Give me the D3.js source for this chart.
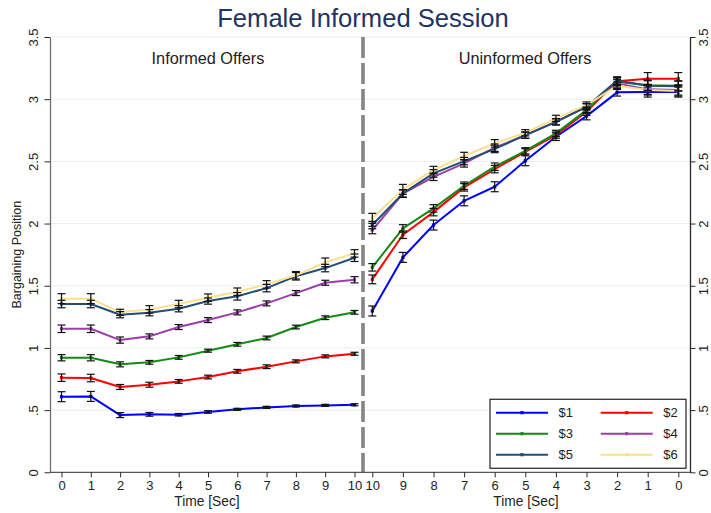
<!DOCTYPE html>
<html>
<head>
<meta charset="utf-8">
<script src="https://cdn.jsdelivr.net/npm/d3@7"></script>
<style>
  html, body { margin: 0; padding: 0; background: #fff; }
  svg { display: block; font-family: "Liberation Sans", Arial, Helvetica, sans-serif; }
</style>
</head>
<body>
<svg id="chart" width="711" height="513"></svg>
<script>
// Seconds shown on each half of the time axis
const informedTimes = [0, 1, 2, 3, 4, 5, 6, 7, 8, 9, 10];
const uninformedTimes = [10, 9, 8, 7, 6, 5, 4, 3, 2, 1, 0];

const seriesNames = ["$1", "$2", "$3", "$4", "$5", "$6"];
const seriesColors = ["#0000ff", "#ff0000", "#138a13", "#9a3fa8", "#244f74", "#fbe089"];

// Mean bargaining position during informed offers (t = 0..10)
const informed1 = [0.608, 0.610, 0.460, 0.466, 0.463, 0.485, 0.506, 0.522, 0.533, 0.538, 0.543];
const informed2 = [0.761, 0.758, 0.686, 0.704, 0.731, 0.766, 0.812, 0.849, 0.892, 0.932, 0.953];
const informed3 = [0.921, 0.921, 0.868, 0.884, 0.924, 0.978, 1.029, 1.080, 1.168, 1.243, 1.286];
const informed4 = [1.154, 1.154, 1.063, 1.093, 1.168, 1.224, 1.286, 1.358, 1.441, 1.524, 1.548];
const informed5 = [1.353, 1.353, 1.267, 1.283, 1.315, 1.377, 1.415, 1.481, 1.576, 1.642, 1.725];
const informed6 = [1.396, 1.396, 1.286, 1.310, 1.353, 1.404, 1.452, 1.511, 1.584, 1.688, 1.760];

// Half-width of the confidence interval, informed offers
const informedErr1 = [0.040, 0.040, 0.020, 0.015, 0.010, 0.010, 0.008, 0.008, 0.008, 0.008, 0.008];
const informedErr2 = [0.030, 0.030, 0.020, 0.020, 0.015, 0.015, 0.015, 0.015, 0.012, 0.012, 0.012];
const informedErr3 = [0.025, 0.025, 0.020, 0.015, 0.015, 0.012, 0.015, 0.015, 0.015, 0.015, 0.015];
const informedErr4 = [0.030, 0.030, 0.025, 0.020, 0.020, 0.020, 0.020, 0.020, 0.020, 0.020, 0.025];
const informedErr5 = [0.030, 0.030, 0.025, 0.025, 0.025, 0.025, 0.030, 0.030, 0.030, 0.030, 0.030];
const informedErr6 = [0.040, 0.040, 0.025, 0.030, 0.030, 0.030, 0.030, 0.030, 0.030, 0.035, 0.030];

// Mean bargaining position during uninformed offers (t = 10 down to 0)
const uninformed1 = [1.297, 1.728, 1.988, 2.183, 2.296, 2.505, 2.698, 2.864, 3.055, 3.057, 3.057];
const uninformed2 = [1.551, 1.910, 2.092, 2.291, 2.438, 2.577, 2.711, 2.899, 3.145, 3.164, 3.164];
const uninformed3 = [1.648, 1.961, 2.122, 2.304, 2.457, 2.585, 2.725, 2.912, 3.140, 3.113, 3.108];
const uninformed4 = [1.948, 2.240, 2.376, 2.484, 2.610, 2.710, 2.818, 2.939, 3.127, 3.079, 3.073];
const uninformed5 = [1.988, 2.243, 2.403, 2.502, 2.600, 2.711, 2.818, 2.939, 3.150, 3.108, 3.105];
const uninformed6 = [2.042, 2.275, 2.430, 2.543, 2.645, 2.730, 2.846, 2.953, 3.108, 3.073, 3.065];

// Half-width of the confidence interval, uninformed offers
const uninformedErr1 = [0.040, 0.040, 0.040, 0.040, 0.040, 0.040, 0.030, 0.030, 0.030, 0.040, 0.040];
const uninformedErr2 = [0.035, 0.030, 0.030, 0.030, 0.030, 0.025, 0.025, 0.030, 0.030, 0.050, 0.050];
const uninformedErr3 = [0.030, 0.030, 0.030, 0.030, 0.030, 0.025, 0.025, 0.025, 0.030, 0.040, 0.040];
const uninformedErr4 = [0.030, 0.030, 0.030, 0.030, 0.030, 0.025, 0.025, 0.025, 0.030, 0.040, 0.040];
const uninformedErr5 = [0.030, 0.030, 0.030, 0.030, 0.030, 0.025, 0.025, 0.025, 0.030, 0.040, 0.040];
const uninformedErr6 = [0.040, 0.040, 0.030, 0.030, 0.030, 0.025, 0.025, 0.025, 0.030, 0.040, 0.040];

const yTickValues = [0, 0.5, 1, 1.5, 2, 2.5, 3, 3.5];
const yTickLabels = ["0", ".5", "1", "1.5", "2", "2.5", "3", "3.5"];

const chartTitle = "Female Informed Session";
const leftPanelLabel = "Informed Offers";
const rightPanelLabel = "Uninformed Offers";
const xAxisTitle = "Time [Sec]";
const yAxisTitle = "Bargaining Position";

// ---- assemble series ----
const informedValues = [informed1, informed2, informed3, informed4, informed5, informed6];
const informedErrors = [informedErr1, informedErr2, informedErr3, informedErr4, informedErr5, informedErr6];
const uninformedValues = [uninformed1, uninformed2, uninformed3, uninformed4, uninformed5, uninformed6];
const uninformedErrors = [uninformedErr1, uninformedErr2, uninformedErr3, uninformedErr4, uninformedErr5, uninformedErr6];

const svg = d3.select("#chart");

// ---- layout ----
const plotLeft = 50, plotRight = 690, plotTop = 37, plotBottom = 472.3;
const dividerX = 363;

const y = d3.scaleLinear().domain([0, 3.5]).range([plotBottom, plotTop]);
const xLeft = d3.scaleLinear().domain([0, 10]).range([61.5, 354.5]);
const xRight = d3.scaleLinear().domain([10, 0]).range([372.3, 678.3]);

// ---- gridlines ----
svg.append("g")
  .selectAll("line")
  .data(yTickValues.filter(v => v > 0))
  .join("line")
  .attr("x1", plotLeft).attr("x2", plotRight)
  .attr("y1", d => y(d)).attr("y2", d => y(d))
  .attr("stroke", "#e6eef1").attr("stroke-width", 1);

// ---- dashed divider between the two phases ----
svg.append("line")
  .attr("x1", dividerX).attr("x2", dividerX)
  .attr("y1", plotTop).attr("y2", plotBottom)
  .attr("stroke", "#858585").attr("stroke-width", 3.6)
  .attr("stroke-dasharray", "21 5");

// ---- y axes (left and right) ----
function styleYAxis(g, side) {
  g.select(".domain").attr("stroke", side === "left" ? "#707070" : "#2a2a2a").attr("stroke-width", 1.3);
  g.selectAll(".tick line").attr("stroke", "#2a2a2a").attr("stroke-width", 1);
  g.selectAll(".tick text")
    .attr("font-size", 13)
    .attr("fill", "#222")
    .attr("transform", "rotate(-90)")
    .attr("text-anchor", "middle")
    .attr("x", 0)
    .attr("dy", 0);
}

const yAxisLeft = d3.axisLeft(y).tickValues(yTickValues)
  .tickFormat((d, i) => yTickLabels[i]).tickSize(5.5).tickSizeOuter(0).tickPadding(4);
const gl = svg.append("g").attr("transform", `translate(${plotLeft},0)`).call(yAxisLeft);
styleYAxis(gl, "left");
gl.selectAll(".tick text").attr("y", -12.5);

const yAxisRight = d3.axisRight(y).tickValues(yTickValues)
  .tickFormat((d, i) => yTickLabels[i]).tickSize(5.5).tickSizeOuter(0).tickPadding(4);
const gr = svg.append("g").attr("transform", `translate(${plotRight},0)`).call(yAxisRight);
styleYAxis(gr, "right");
gr.selectAll(".tick text").attr("y", 18);

// ---- x axes ----
svg.append("line")
  .attr("x1", plotLeft).attr("x2", plotRight)
  .attr("y1", plotBottom).attr("y2", plotBottom)
  .attr("stroke", "#555").attr("stroke-width", 1.3);

function drawXAxis(scale, ticks) {
  const g = svg.append("g").attr("transform", `translate(0,${plotBottom})`)
    .call(d3.axisBottom(scale).tickValues(ticks).tickFormat(d3.format("d"))
      .tickSize(5).tickSizeOuter(0).tickPadding(3));
  g.select(".domain").remove();
  g.selectAll(".tick line").attr("stroke", "#2a2a2a");
  g.selectAll(".tick text").attr("font-size", 13).attr("fill", "#222");
  return g;
}
drawXAxis(xLeft, informedTimes);
drawXAxis(xRight, uninformedTimes);

svg.append("text").attr("x", 207).attr("y", 505.5).attr("text-anchor", "middle")
  .attr("font-size", 13.8).attr("fill", "#222").text(xAxisTitle);
svg.append("text").attr("x", 526).attr("y", 505.5).attr("text-anchor", "middle")
  .attr("font-size", 13.8).attr("fill", "#222").text(xAxisTitle);

svg.append("text")
  .attr("transform", `translate(21,${(plotTop + plotBottom) / 2}) rotate(-90)`)
  .attr("text-anchor", "middle").attr("font-size", 12.5).attr("fill", "#222")
  .text(yAxisTitle);

// ---- titles ----
svg.append("text").attr("x", 363).attr("y", 26.5).attr("text-anchor", "middle")
  .attr("font-size", 25.6).attr("fill", "#1f3461").text(chartTitle);
svg.append("text").attr("x", 208).attr("y", 64).attr("text-anchor", "middle")
  .attr("font-size", 16.3).attr("fill", "#222").text(leftPanelLabel);
svg.append("text").attr("x", 525).attr("y", 64).attr("text-anchor", "middle")
  .attr("font-size", 16.3).attr("fill", "#222").text(rightPanelLabel);

// ---- series: lines, markers, error bars ----
const panels = [
  { x: xLeft, times: informedTimes, values: informedValues, errors: informedErrors },
  { x: xRight, times: uninformedTimes, values: uninformedValues, errors: uninformedErrors }
];

const linesLayer = svg.append("g");
const barsLayer = svg.append("g");

panels.forEach(panel => {
  panel.values.forEach((vals, si) => {
    const pts = vals.map((v, i) => ({ t: panel.times[i], v, e: panel.errors[si][i] }));
    const line = d3.line().x(d => panel.x(d.t)).y(d => y(d.v));
    linesLayer.append("path")
      .datum(pts)
      .attr("d", line)
      .attr("fill", "none")
      .attr("stroke", seriesColors[si])
      .attr("stroke-width", 2)
      .attr("stroke-linejoin", "round");
    linesLayer.append("g").selectAll("rect")
      .data(pts).join("rect")
      .attr("x", d => panel.x(d.t) - 1.6).attr("y", d => y(d.v) - 1.6)
      .attr("width", 3.2).attr("height", 3.2)
      .attr("fill", seriesColors[si]);
  });
  panel.values.forEach((vals, si) => {
    const pts = vals.map((v, i) => ({ t: panel.times[i], v, e: panel.errors[si][i] }));
    const g = barsLayer.append("g").attr("stroke", "#111").attr("stroke-width", 1.2);
    pts.forEach(d => {
      const cx = panel.x(d.t), y1 = y(d.v + d.e), y2 = y(d.v - d.e);
      g.append("line").attr("x1", cx).attr("x2", cx).attr("y1", y1).attr("y2", y2);
      g.append("line").attr("x1", cx - 4).attr("x2", cx + 4).attr("y1", y1).attr("y2", y1);
      g.append("line").attr("x1", cx - 4).attr("x2", cx + 4).attr("y1", y2).attr("y2", y2);
    });
  });
});

// ---- legend ----
const legend = svg.append("g");
legend.append("rect")
  .attr("x", 490).attr("y", 399.3).attr("width", 196).attr("height", 69)
  .attr("fill", "#fff").attr("stroke", "#333").attr("stroke-width", 1.3);

const legendCols = [496, 600.7];
const legendRows = [412.7, 433.7, 454.7];
seriesNames.forEach((name, i) => {
  const lx = legendCols[i % 2];
  const ly = legendRows[Math.floor(i / 2)];
  legend.append("line")
    .attr("x1", lx).attr("x2", lx + 52).attr("y1", ly).attr("y2", ly)
    .attr("stroke", seriesColors[i]).attr("stroke-width", 2);
  legend.append("rect")
    .attr("x", lx + 26 - 1.6).attr("y", ly - 1.6).attr("width", 3.2).attr("height", 3.2)
    .attr("fill", seriesColors[i]);
  legend.append("text")
    .attr("x", lx + 62.5).attr("y", ly + 4.7)
    .attr("font-size", 13).attr("fill", "#222")
    .text(name);
});
</script>
</body>
</html>
